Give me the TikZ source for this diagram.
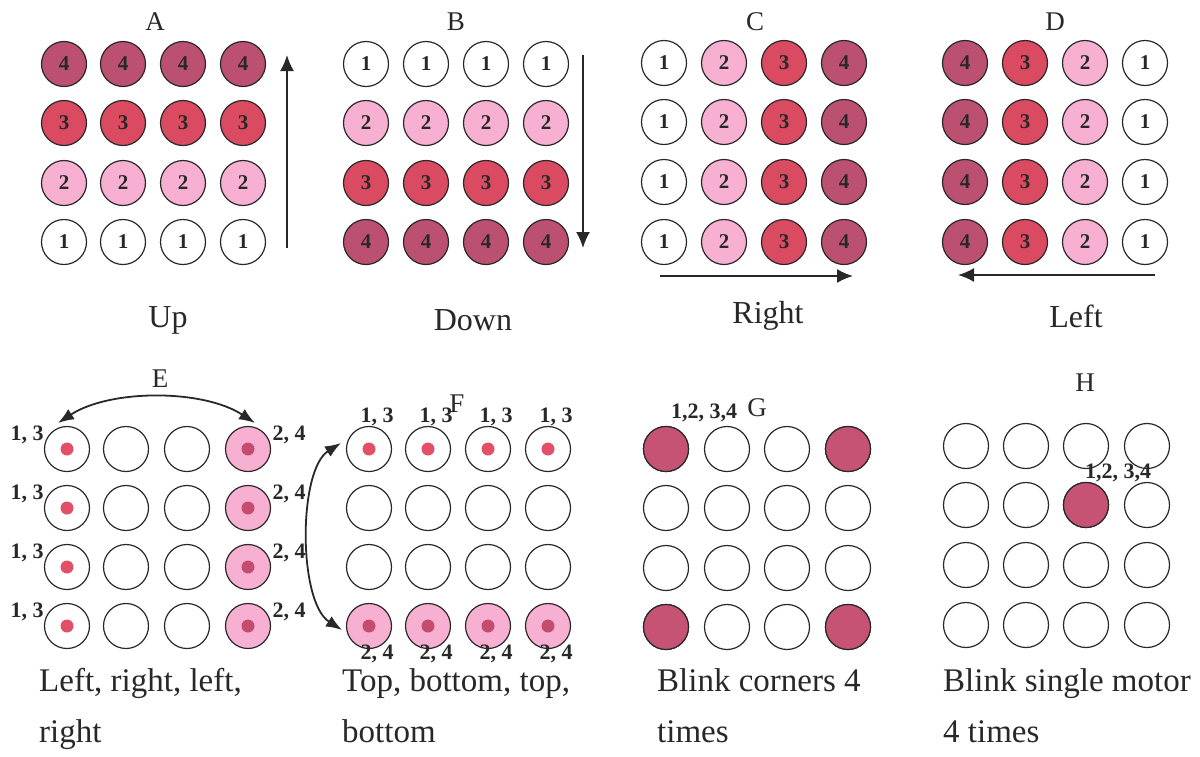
\documentclass[tikz,border=0pt]{standalone}
\usepackage{fontspec}
\setmainfont{Liberation Serif}
\usetikzlibrary{arrows.meta}
\definecolor{lvtwo}{RGB}{248,176,210}
\definecolor{lvthree}{RGB}{218,74,96}
\definecolor{lvfour}{RGB}{188,80,112}
\definecolor{dotred}{RGB}{226,80,104}
\definecolor{dotdark}{RGB}{196,76,110}
\definecolor{blinkfill}{RGB}{198,82,116}
\definecolor{ink}{RGB}{40,40,40}
\tikzset{
  led/.style={circle, draw=ink, line width=1.2pt, minimum size=45pt, inner sep=0pt,
              font=\bfseries\fontsize{21}{21}\selectfont, text=ink},
  s1/.style={fill=white},
  s2/.style={fill=lvtwo},
  s3/.style={fill=lvthree},
  s4/.style={fill=lvfour},
  lit/.style={fill=blinkfill},
  reddot/.style={circle, fill=dotred, minimum size=13pt, inner sep=0pt},
  darkdot/.style={circle, fill=dotdark, minimum size=13pt, inner sep=0pt},
  paneltitle/.style={font=\fontsize{27}{27}\selectfont, text=ink, inner sep=0pt},
  dircap/.style={font=\fontsize{32}{32}\selectfont, text=ink, inner sep=0pt},
  bcap/.style={font=\fontsize{33}{51}\selectfont, text=ink, inner sep=0pt, anchor=north west, align=left},
  seq/.style={font=\bfseries\fontsize{22}{22}\selectfont, text=ink, inner sep=0pt},
  dirarrow/.style={draw=ink, line width=1.8pt, -{Latex[length=16pt,width=14pt]}},
  swaparrow/.style={draw=ink, line width=1.8pt, {Latex[length=16pt,width=12pt]}-{Latex[length=16pt,width=12pt]}}
}
\begin{document}
\begin{tikzpicture}[x=1pt,y=-1pt]
\useasboundingbox (0,0) rectangle (1200,756);
\fill[white] (0,0) rectangle (1200,756);

% ---------- Panel A ----------
\node[paneltitle] (tA) at (155,22) {A};
\foreach \x [count=\c] in {64,123,183,243}{
  \foreach \y/\v [count=\r] in {64/4,123/3,183/2,242/1}{
    \node[led, s\v] (a\r\c) at (\x,\y) {\v};
  }
}
\coordinate (aS) at (287,248); \coordinate (aE) at (287,55);
\draw[dirarrow] (aS) -- (aE);
\node[dircap] (capA) at (168,320) {Up};

% ---------- Panel B ----------
\node[paneltitle] (tB) at (456,22) {B};
\foreach \x [count=\c] in {366,426,486,546}{
  \foreach \y/\v [count=\r] in {64/1,123/2,183/3,242/4}{
    \node[led, s\v] (b\r\c) at (\x,\y) {\v};
  }
}
\coordinate (bS) at (583,55); \coordinate (bE) at (583,248);
\draw[dirarrow] (bS) -- (bE);
\node[dircap] (capB) at (473,320) {Down};

% ---------- Panel C ----------
\node[paneltitle] (tC) at (755,22) {C};
\foreach \x/\v [count=\c] in {664/1,724/2,784/3,844/4}{
  \foreach \y [count=\r] in {63,122,182,242}{
    \node[led, s\v] (c\r\c) at (\x,\y) {\v};
  }
}
\coordinate (cS) at (660,276); \coordinate (cE) at (853,276);
\draw[dirarrow] (cS) -- (cE);
\node[dircap] (capC) at (768,316) {Right};

% ---------- Panel D ----------
\node[paneltitle] (tD) at (1055,22) {D};
\foreach \x/\v [count=\c] in {965/4,1025/3,1085/2,1145/1}{
  \foreach \y [count=\r] in {63,122,182,242}{
    \node[led, s\v] (d\r\c) at (\x,\y) {\v};
  }
}
\coordinate (dS) at (1155,275); \coordinate (dE) at (958,275);
\draw[dirarrow] (dS) -- (dE);
\node[dircap] (capD) at (1076,316) {Left};

% ---------- Panel E ----------
\node[paneltitle] (tE) at (160,379) {E};
\foreach \y [count=\r] in {449,508,567,626}{
  \node[led] (e\r1) at (67,\y) {};
  \node[reddot] (ed\r1) at (e\r1) {};
  \node[led] (e\r2) at (126,\y) {};
  \node[led] (e\r3) at (187,\y) {};
  \node[led, s2] (e\r4) at (248,\y) {};
  \node[darkdot] (ed\r4) at (e\r4) {};
  \node[seq] (el\r) at (27,\y-14) {1, 3};
  \node[seq] (er\r) at (289,\y-14) {2, 4};
}
\coordinate (eL) at (58,423); \coordinate (eR) at (255,423);
\draw[swaparrow] (eL) .. controls (110,389) and (203,389) .. (eR);
\node[bcap] (capE) at (39,668) {Left, right, left,\\right};

% ---------- Panel F ----------
\node[paneltitle] (tF) at (457,404) {F};
\foreach \x [count=\c] in {369,428,488,548}{
  \node[led] (f1\c) at (\x,449) {};
  \node[reddot] (fd1\c) at (f1\c) {};
  \node[led] (f2\c) at (\x,508) {};
  \node[led] (f3\c) at (\x,567) {};
  \node[led, s2] (f4\c) at (\x,626) {};
  \node[darkdot] (fd4\c) at (f4\c) {};
  \node[seq] (ft\c) at (\x+8,417) {1, 3};
  \node[seq] (fb\c) at (\x+8,654) {2, 4};
}
\coordinate (fT) at (341,443); \coordinate (fB) at (342,630);
\draw[swaparrow] (fT) .. controls (298,470) and (298,602) .. (fB);
\node[bcap] (capF) at (342,668) {Top, bottom, top,\\bottom};

% ---------- Panel G ----------
\node[paneltitle] (tG) at (757,408) {G};
\foreach \x [count=\c] in {666,727,787,848}{
  \foreach \y [count=\r] in {449,508,568,627}{
    \node[led] (g\r\c) at (\x,\y) {};
  }
}
\foreach \n in {g11,g14,g41,g44}{ \node[led, lit] at (\n) {}; }
\node[seq] (gl) at (704,413) {1,2, 3,4};
\node[bcap] (capG) at (657,668) {Blink corners 4\\times};

% ---------- Panel H ----------
\node[paneltitle] (tH) at (1085,383) {H};
\foreach \x [count=\c] in {966,1026,1086,1147}{
  \foreach \y [count=\r] in {446,505,565,625}{
    \node[led] (h\r\c) at (\x,\y) {};
  }
}
\node[led, lit] at (h23) {};
\node[seq] (hl) at (1118,473) {1,2, 3,4};
\node[bcap] (capH) at (943,668) {Blink single motor\\4 times};
\end{tikzpicture}
\end{document}
